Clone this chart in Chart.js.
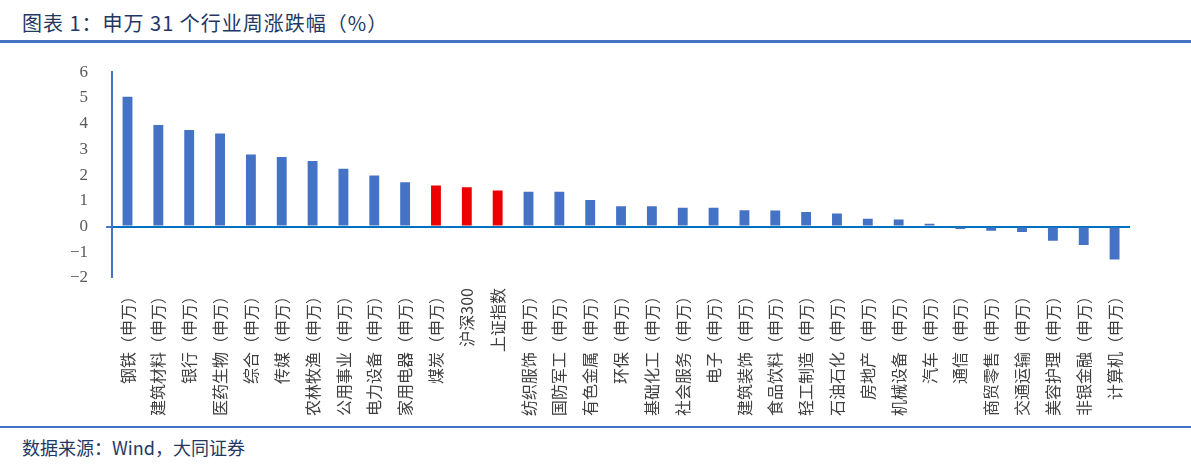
<!DOCTYPE html>
<html><head><meta charset="utf-8">
<script src="https://cdn.jsdelivr.net/npm/chart.js@4/dist/chart.umd.min.js"></script>
<style>
body{margin:0;width:1191px;height:469px;background:#fff;font-family:"Noto Sans CJK SC",sans-serif;position:relative;overflow:hidden}
#title{position:absolute;left:22px;top:8px;font-size:20px;color:#1f3864;letter-spacing:1px}
#l1{position:absolute;left:0;top:40px;width:1191px;height:3px;background:#4472c4}
#l2{position:absolute;left:0;top:426px;width:1191px;height:2px;background:#4472c4}
#src{position:absolute;left:22px;top:434px;font-size:18px;color:#1f3864}
#wrap{position:absolute;left:52px;top:44px;width:1098px;height:382px}
</style></head><body>
<div id="title">图表 1：申万 31 个行业周涨跌幅（%）</div>
<div id="l1"></div>
<div id="wrap"><canvas id="c"></canvas></div>
<div id="l2"></div>
<div id="src">数据来源：Wind，大同证券</div>
<script>
const categories=["钢铁（申万）","建筑材料（申万）","银行（申万）","医药生物（申万）","综合（申万）","传媒（申万）","农林牧渔（申万）","公用事业（申万）","电力设备（申万）","家用电器（申万）","煤炭（申万）","沪深300","上证指数","纺织服饰（申万）","国防军工（申万）","有色金属（申万）","环保（申万）","基础化工（申万）","社会服务（申万）","电子（申万）","建筑装饰（申万）","食品饮料（申万）","轻工制造（申万）","石油石化（申万）","房地产（申万）","机械设备（申万）","汽车（申万）","通信（申万）","商贸零售（申万）","交通运输（申万）","美容护理（申万）","非银金融（申万）","计算机（申万）"];
const values=[5.05,3.95,3.75,3.62,2.8,2.7,2.55,2.25,1.98,1.72,1.6,1.53,1.4,1.35,1.35,1.03,0.79,0.79,0.73,0.73,0.63,0.62,0.57,0.51,0.3,0.27,0.11,-0.1,-0.16,-0.21,-0.55,-0.72,-1.28];
const highlighted=["煤炭（申万）","沪深300","上证指数"];
const yTicks=[-2,-1,0,1,2,3,4,5,6];
new Chart(document.getElementById('c'),{type:'bar',
data:{labels:categories,datasets:[{data:values,backgroundColor:categories.map(c=>highlighted.includes(c)?'#ee0000':'#4472c4'),barPercentage:0.32,categoryPercentage:1}]},
options:{responsive:true,maintainAspectRatio:false,animation:false,
plugins:{legend:{display:false},tooltip:{enabled:false}},
layout:{padding:{right:20,top:0}},
scales:{
x:{grid:{display:false,drawTicks:false},border:{display:false},ticks:{color:'#404040',font:{size:16,family:'"Noto Sans CJK SC"'},maxRotation:90,minRotation:90,autoSkip:false,padding:10}},
y:{min:-2,max:6,afterBuildTicks:a=>{a.ticks=yTicks.map(v=>({value:v}))},
grid:{drawOnChartArea:true,color:c=>c.tick.value===0?'#0070c0':'transparent',lineWidth:c=>c.tick.value===0?2:0,tickColor:'#4472c4',tickLength:6,drawTicks:true},
border:{display:true,color:'#4472c4',width:2},
ticks:{color:'#595959',font:{size:17,family:'"Liberation Serif"'},padding:18,callback:v=>String(v).replace('-','−')}}
}}});
</script></body></html>
